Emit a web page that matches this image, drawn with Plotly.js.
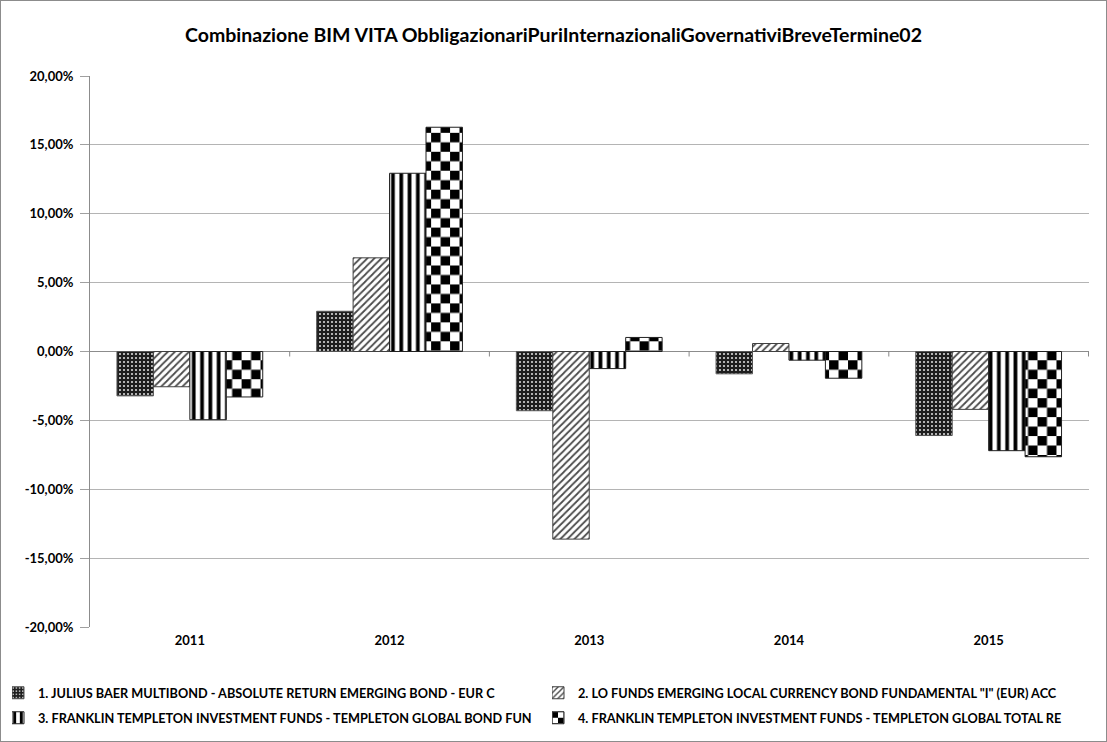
<!DOCTYPE html>
<html>
<head>
<meta charset="utf-8">
<script src="https://cdn.plot.ly/plotly-3.0.1.min.js"></script>
<style>
  html, body { margin: 0; padding: 0; background: #fff; }
  #wrap { position: relative; width: 1107px; height: 742px; }
  #chart { width: 1107px; height: 742px; }
  #frame { position: absolute; left: 0; top: 0; width: 1107px; height: 742px; box-sizing: border-box; border: 1px solid #8c8c8c; pointer-events: none; }
</style>
</head>
<body>
<div id="wrap"><div id="chart"></div><div id="frame"></div></div>
<script>
// ---- data ----
const years = ["2011", "2012", "2013", "2014", "2015"];
const seriesNames = [
  "1. JULIUS BAER MULTIBOND - ABSOLUTE RETURN EMERGING BOND - EUR C",
  "2. LO FUNDS EMERGING LOCAL CURRENCY BOND FUNDAMENTAL \"I\" (EUR) ACC",
  "3. FRANKLIN TEMPLETON INVESTMENT FUNDS - TEMPLETON GLOBAL BOND FUN",
  "4. FRANKLIN TEMPLETON INVESTMENT FUNDS - TEMPLETON GLOBAL TOTAL RE"
];
const julius   = [-3.22,  2.92,  -4.30, -1.62, -6.10];
const loFunds  = [-2.56,  6.80, -13.62,  0.58, -4.20];
const ftBond   = [-4.95, 12.94,  -1.24, -0.63, -7.20];
const ftTotal  = [-3.30, 16.28,   1.02, -1.94, -7.64];
const yTicks   = [-20, -15, -10, -5, 0, 5, 10, 15, 20];
const titleText = "Combinazione BIM VITA ObbligazionariPuriInternazionaliGovernativiBreveTermine02";

const FONT = "Lato, 'Open Sans', sans-serif";

const patterns = [
  {shape: ".", bgcolor: "#1e1e1e", fgcolor: "#d8d8d8", size: 4, solidity: 0.22},
  {shape: "/", bgcolor: "#ffffff", fgcolor: "#4a4a4a", size: 5, solidity: 0.35},
  {shape: "|", bgcolor: "#ffffff", fgcolor: "#000000", size: 8.3, solidity: 0.45},
  {shape: "x", bgcolor: "#ffffff", fgcolor: "#010101", size: 13.4, solidity: 0.3}
];
const lineColors = ["#555555", "#404040", "#202020", "#202020"];
const values = [julius, loFunds, ftBond, ftTotal];
const legendIds = ["legend", "legend2", "legend3", "legend4"];

const traces = values.map((v, i) => ({
  type: "bar",
  name: "<b>" + seriesNames[i] + "</b>",
  x: years,
  y: v,
  legend: legendIds[i],
  marker: {
    color: "#ffffff",
    pattern: patterns[i],
    line: {color: lineColors[i], width: 1}
  },
  hoverinfo: "x+y"
}));

const shapes = [];
for (let i = 0; i < years.length; i++) {
  shapes.push({
    type: "line", xref: "x", yref: "y", ysizemode: "pixel", yanchor: 0,
    x0: i + 0.5, x1: i + 0.5, y0: 0, y1: -5,
    line: {color: "#888888", width: 1}
  });
}

function legendCfg(xPos, yPos) {
  return {
    orientation: "h",
    xref: "container", yref: "container",
    x: xPos, xanchor: "left",
    y: yPos, yanchor: "middle",
    indentation: -14,
    itemwidth: 30,
    font: {family: FONT, size: 12.7, color: "#000"},
    bgcolor: "rgba(0,0,0,0)"
  };
}
const col1 = 12 / 1107, col2 = 552 / 1107;
const row1 = 1 - 693 / 742, row2 = 1 - 718 / 742;

const layout = {
  width: 1107, height: 742,
  margin: {l: 90, r: 18, t: 76, b: 115},
  paper_bgcolor: "#ffffff",
  plot_bgcolor: "#ffffff",
  separators: ",.",
  title: {
    text: "<b>" + titleText + "</b>",
    font: {family: FONT, size: 19.5, color: "#000"},
    x: 0.5, xanchor: "center", y: 0.953, yanchor: "middle"
  },
  font: {family: FONT, color: "#000"},
  barmode: "group",
  bargap: 0.27,
  bargroupgap: 0,
  showlegend: true,
  legend: legendCfg(col1, row1),
  legend2: legendCfg(col2, row1),
  legend3: legendCfg(col1, row2),
  legend4: legendCfg(col2, row2),
  xaxis: {
    type: "category",
    automargin: false,
    tickfont: {family: FONT, size: 13, color: "#000"},
    ticks: "",
    ticklabelstandoff: 4,
    showline: false,
    showgrid: false,
    tickprefix: "<b>", ticksuffix: "</b>",
    fixedrange: true
  },
  yaxis: {
    range: [-20, 20],
    automargin: false,
    tickvals: yTicks,
    ticktext: yTicks.map(t => "<b>" + t.toFixed(2).replace(".", ",") + "%</b>"),
    tickfont: {family: FONT, size: 13, color: "#000"},
    ticks: "outside", ticklen: 9, tickcolor: "#a0a0a0",
    ticklabelstandoff: 4,
    showline: true, linecolor: "#8c8c8c", linewidth: 1,
    showgrid: true, gridcolor: "#b4b4b4", gridwidth: 1,
    zeroline: true, zerolinecolor: "#8c8c8c", zerolinewidth: 1,
    fixedrange: true
  },
  shapes: shapes
};

function checkerize() {
  const pats = document.querySelectorAll("pattern");
  pats.forEach(p => {
    const html = p.innerHTML;
    if (html.indexOf("1, 1, 1") >= 0 || html.toLowerCase().indexOf("010101") >= 0) {
      const w = parseFloat(p.getAttribute("width")) || 13.4;
      const h = parseFloat(p.getAttribute("height")) || 13.4;
      const ns = "http://www.w3.org/2000/svg";
      while (p.firstChild) p.removeChild(p.firstChild);
      const mk = (x, y, ww, hh, c) => {
        const r = document.createElementNS(ns, "rect");
        r.setAttribute("x", x); r.setAttribute("y", y);
        r.setAttribute("width", ww); r.setAttribute("height", hh);
        r.setAttribute("fill", c);
        p.appendChild(r);
      };
      mk(0, 0, w, h, "#ffffff");
      mk(0, 0, w / 2, h / 2, "#000000");
      mk(w / 2, h / 2, w / 2, h / 2, "#000000");
    }
  });
}

Plotly.newPlot("chart", traces, layout, {displayModeBar: false, staticPlot: true}).then(checkerize);
</script>
</body>
</html>
